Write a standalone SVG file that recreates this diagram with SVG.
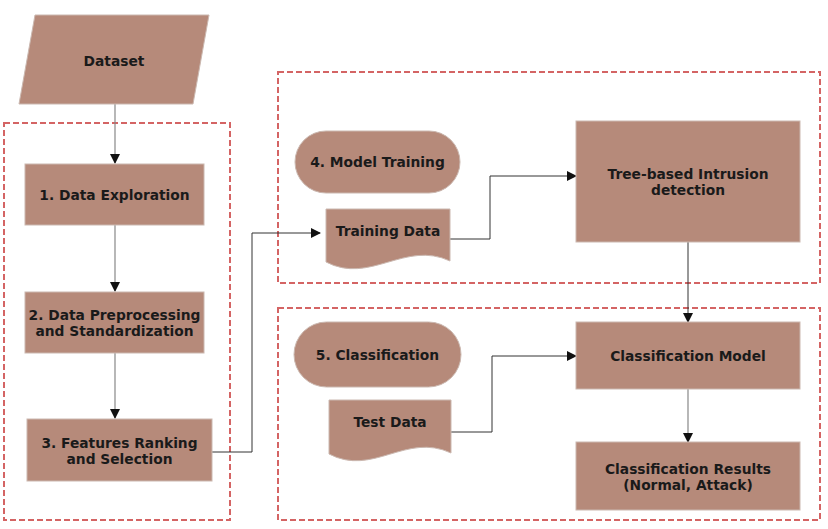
<svg xmlns="http://www.w3.org/2000/svg" width="828" height="529" viewBox="0 0 828 529">
<defs>
<style>
.n{fill:#b68a7a;stroke:#cbb8b0;stroke-width:1}
.t{font-family:"DejaVu Sans",Verdana,sans-serif;font-weight:bold;font-size:13.8px;fill:#1a1a1a;text-anchor:middle}
.g{fill:none;stroke:#d46464;stroke-width:2;stroke-dasharray:6,3}
.c{fill:none;stroke:#333;stroke-width:1}
.cg{fill:none;stroke:#888;stroke-width:1.2}
</style>
<marker id="a" markerWidth="10" markerHeight="10" refX="9" refY="5" orient="auto" markerUnits="userSpaceOnUse">
<path d="M0,0 L10,5 L0,10 Z" fill="#111"/>
</marker>
</defs>
<rect width="828" height="529" fill="#fff"/>
<g id="groups">
<rect class="g" x="4" y="123" width="226" height="397"/>
<rect class="g" x="278" y="72" width="542" height="211"/>
<rect class="g" x="278" y="308" width="542" height="212"/>
</g>
<g id="connectors">
<path class="cg" d="M115,104 V163" marker-end="url(#a)"/>
<path class="cg" d="M115,225 V291" marker-end="url(#a)"/>
<path class="cg" d="M115,353 V418" marker-end="url(#a)"/>
<path class="c" d="M212,452 H252 V233 H320" marker-end="url(#a)"/>
<path class="c" d="M450,239 H490 V176 H576" marker-end="url(#a)"/>
<path class="c" d="M688,242 V322" marker-end="url(#a)"/>
<path class="c" d="M451,432 H492 V356 H576" marker-end="url(#a)"/>
<path class="cg" d="M688,389 V442" marker-end="url(#a)"/>
</g>
<g id="dataset">
<polygon class="n" points="35,15 209,15 193,104 19,104"/>
<text class="t" x="114" y="66">Dataset</text>
</g>
<g id="step1">
<rect class="n" x="25" y="164" width="179" height="61"/>
<text class="t" x="114.5" y="200">1. Data Exploration</text>
</g>
<g id="step2">
<rect class="n" x="25" y="292" width="179" height="61"/>
<text class="t" x="114.5" y="320">2. Data Preprocessing</text>
<text class="t" x="114.5" y="336">and Standardization</text>
</g>
<g id="step3">
<rect class="n" x="27" y="419" width="185" height="62"/>
<text class="t" x="119.5" y="448">3. Features Ranking</text>
<text class="t" x="119.5" y="464">and Selection</text>
</g>
<g id="model-training">
<rect class="n" x="295" y="131" width="165" height="62" rx="31"/>
<text class="t" x="377.5" y="167">4. Model Training</text>
</g>
<g id="training-data">
<path class="n" d="M326,209 H450 V261 C405,240 370,285 326,262 Z"/>
<text class="t" x="388" y="236">Training Data</text>
</g>
<g id="tree">
<rect class="n" x="576" y="121" width="224" height="121"/>
<text class="t" x="688" y="179">Tree-based Intrusion</text>
<text class="t" x="688" y="195">detection</text>
</g>
<g id="classification">
<rect class="n" x="294" y="322" width="167" height="65" rx="32.5"/>
<text class="t" x="377.5" y="360">5. Classification</text>
</g>
<g id="test-data">
<path class="n" d="M329,400 H451 V453 C406,432 373,477 329,454 Z"/>
<text class="t" x="390" y="427">Test Data</text>
</g>
<g id="classification-model">
<rect class="n" x="576" y="322" width="224" height="67"/>
<text class="t" x="688" y="361">Classification Model</text>
</g>
<g id="results">
<rect class="n" x="576" y="442" width="224" height="68"/>
<text class="t" x="688" y="474">Classification Results</text>
<text class="t" x="688" y="490">(Normal, Attack)</text>
</g>
</svg>
